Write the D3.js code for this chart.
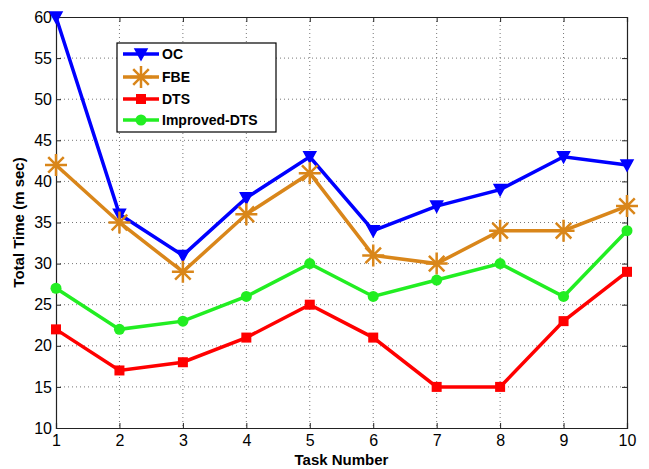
<!DOCTYPE html>
<html><head><meta charset="utf-8">
<script src="https://cdn.jsdelivr.net/npm/d3@7"></script>
<style>body{margin:0;background:#fff}svg{display:block}text{font-family:"Liberation Sans",Arial,sans-serif}</style>
</head><body><svg id="c" width="649" height="469"></svg>
<script>
const tasks = [1,2,3,4,5,6,7,8,9,10];
const ocValues = [60,36,31,38,43,34,37,39,43,42];
const fbeValues = [42,35,29,36,41,31,30,34,34,37];
const dtsValues = [22,17,18,21,25,21,15,15,23,29];
const improvedValues = [27,22,23,26,30,26,28,30,26,34];
const seriesNames = ["OC","FBE","DTS","Improved-DTS"];
const yTicks = [10,15,20,25,30,35,40,45,50,55,60];
const xTicks = [1,2,3,4,5,6,7,8,9,10];

const series = [
  {name:seriesNames[0], values:ocValues, color:"#0000ff", marker:"tri"},
  {name:seriesNames[1], values:fbeValues, color:"#d9861a", marker:"star"},
  {name:seriesNames[2], values:dtsValues, color:"#ff0000", marker:"sq"},
  {name:seriesNames[3], values:improvedValues, color:"#22ee22", marker:"circ"}
];

const svg = d3.select("#c");
const L=56, R=627, T=17, B=428;
const x = d3.scaleLinear().domain([1,10]).range([L,R]);
const y = d3.scaleLinear().domain([10,60]).range([B,T]);

const g = svg.append("g");
g.selectAll(".gx").data(xTicks.slice(1,-1)).enter().append("line")
  .attr("x1",d=>x(d)).attr("x2",d=>x(d)).attr("y1",T).attr("y2",B)
  .attr("stroke","#777").attr("stroke-width",1).attr("stroke-dasharray","1,3");
g.selectAll(".gy").data(yTicks.slice(1,-1)).enter().append("line")
  .attr("y1",d=>y(d)).attr("y2",d=>y(d)).attr("x1",L).attr("x2",R)
  .attr("stroke","#777").attr("stroke-width",1).attr("stroke-dasharray","1,3");

const xa = svg.append("g").attr("transform",`translate(0,${B})`)
  .call(d3.axisBottom(x).tickValues(xTicks).tickSize(-5).tickPadding(7).tickFormat(d3.format("d")));
const xt = svg.append("g").attr("transform",`translate(0,${T})`)
  .call(d3.axisTop(x).tickValues(xTicks).tickSize(-5).tickFormat(""));
const ya = svg.append("g").attr("transform",`translate(${L},0)`)
  .call(d3.axisLeft(y).tickValues(yTicks).tickSize(-5).tickPadding(4).tickFormat(d3.format("d")));
const yr = svg.append("g").attr("transform",`translate(${R},0)`)
  .call(d3.axisRight(y).tickValues(yTicks).tickSize(-5).tickFormat(""));
[xa,xt,ya,yr].forEach(a=>{
  a.selectAll("path").attr("stroke","#222").attr("stroke-width",1.2);
  a.selectAll("line").attr("stroke","#222");
  a.selectAll("text").attr("font-size",16).attr("fill","#000");
});

svg.append("text").attr("x",(L+R)/2).attr("y",465).attr("text-anchor","middle")
  .attr("font-size",15).attr("font-weight","bold").text("Task Number");
svg.append("text").attr("transform",`translate(24,${(T+B)/2}) rotate(-90)`).attr("text-anchor","middle")
  .attr("font-size",15).attr("font-weight","bold").text("Total Time (m sec)");

function drawMarker(sel, type, color, cx, cy){
  if(type==="tri"){
    sel.append("path").attr("d",`M${cx-6},${cy-5}L${cx+6},${cy-5}L${cx},${cy+6}Z`).attr("fill",color).attr("stroke",color).attr("stroke-width",1.5);
  } else if(type==="sq"){
    sel.append("rect").attr("x",cx-5).attr("y",cy-5).attr("width",10).attr("height",10).attr("fill",color);
  } else if(type==="circ"){
    sel.append("circle").attr("cx",cx).attr("cy",cy).attr("r",5.5).attr("fill",color);
  } else {
    const r=11;
    const p=[];
    for(let i=0;i<4;i++){const a=i*Math.PI/4;p.push(`M${cx-r*Math.cos(a)},${cy-r*Math.sin(a)}L${cx+r*Math.cos(a)},${cy+r*Math.sin(a)}`);}
    sel.append("path").attr("d",p.join("")).attr("stroke",color).attr("stroke-width",2.5).attr("fill","none");
  }
}

const line = d3.line().x((d,i)=>x(tasks[i])).y(d=>y(d));
series.forEach(s=>{
  const sg = svg.append("g");
  sg.append("path").datum(s.values).attr("d",line).attr("fill","none").attr("stroke",s.color).attr("stroke-width",3.5);
  s.values.forEach((v,i)=>drawMarker(sg,s.marker,s.color,x(tasks[i]),y(v)));
});

const lg = svg.append("g");
lg.append("rect").attr("x",117).attr("y",43).attr("width",159).attr("height",89).attr("fill","#fff").attr("stroke","#000").attr("stroke-width",1.2);
const rowY=[54,77,99,120];
series.forEach((s,i)=>{
  lg.append("line").attr("x1",123).attr("x2",159).attr("y1",rowY[i]).attr("y2",rowY[i]).attr("stroke",s.color).attr("stroke-width",3.5);
  drawMarker(lg,s.marker,s.color,141,rowY[i]);
  lg.append("text").attr("x",162).attr("y",rowY[i]+5).attr("font-size",14).attr("font-weight","bold").text(s.name);
});
</script></body></html>
